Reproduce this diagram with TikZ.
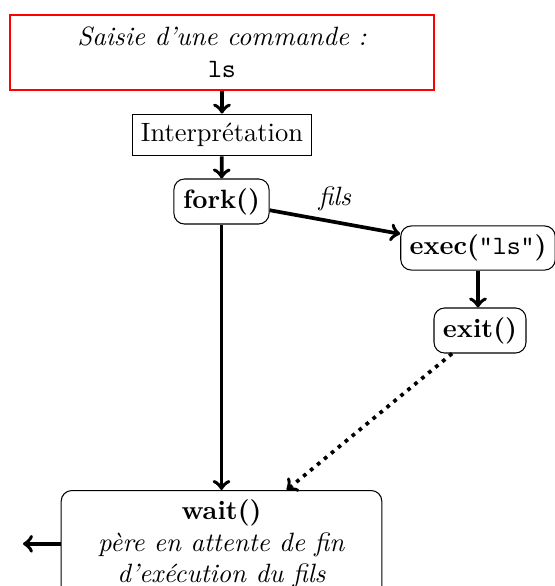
\documentclass[tikz,border=0pt]{standalone}
\begin{document}
\begin{tikzpicture}[x=0.3774pt, y=-0.3774pt,
  box/.style={draw, thin, inner sep=3.33pt},
  rbox/.style={box, rounded corners=4pt},
  flow/.style={->, line width=1.4pt}]
\useasboundingbox (0,0) rectangle (555,586);

% command input
\node[box, draw=red, minimum width=160pt, minimum height=28.3pt, align=center]
  (cmd) at (222,52.5) {\textit{Saisie d'une commande :}\\\texttt{ls}};
\node[box, minimum width=67.9pt, minimum height=15.8pt]
  (interp) at (222,135) {Interprétation};
\node[rbox, minimum width=35.9pt, minimum height=17pt]
  (fork) at (221.5,201.5) {\textbf{fork()}};
\node[rbox, minimum width=57.4pt, minimum height=16.6pt]
  (exec) at (478,248) {\textbf{exec(}\texttt{"ls"}\textbf{)}};
\node[rbox, minimum width=34.7pt, minimum height=17pt]
  (exit) at (480,330.5) {\textbf{exit()}};
\node[rbox, minimum width=121pt, align=center, anchor=north]
  (wait) at (221.5,490) {\textbf{wait()}\\\textit{père en attente de fin}\\\textit{d'exécution du fils}};
\coordinate (out) at (23,542);

% connectors
\draw[flow] (cmd) -- (interp);
\draw[flow] (interp) -- (fork);
\draw[flow] (fork) -- node[midway, above] {\textit{fils}} (exec);
\draw[flow] (exec.south) -- (exec.south |- exit.north);
\draw[flow] (fork.south) -- (wait.north);
\draw[flow, dotted] (exit) -- (wait);
\draw[flow] (wait.west) -- (wait.west -| out);
\end{tikzpicture}
\end{document}
